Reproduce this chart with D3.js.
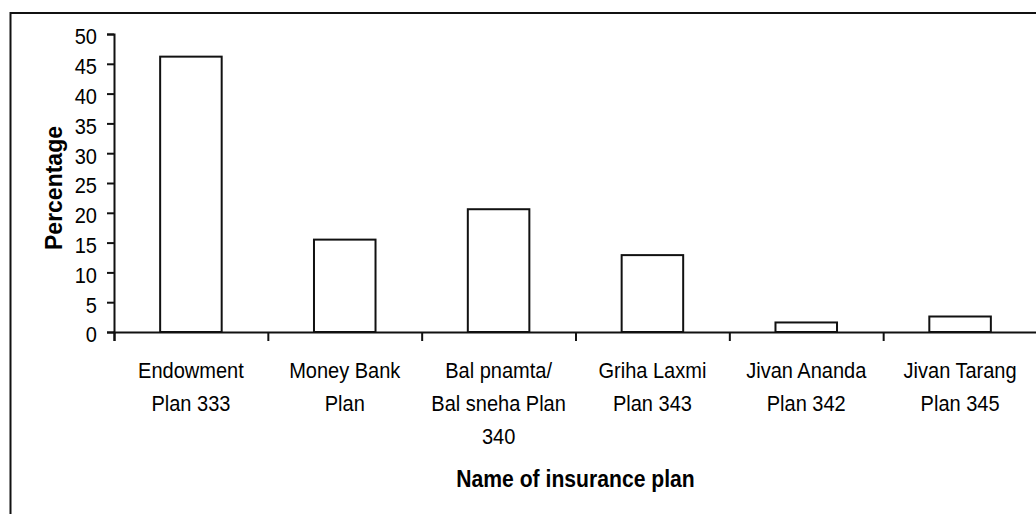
<!DOCTYPE html>
<html>
<head>
<meta charset="utf-8">
<script src="https://cdn.jsdelivr.net/npm/d3@7"></script>
<style>
  html, body { margin: 0; padding: 0; background: #fff; }
  svg { display: block; font-family: "Liberation Sans", Arial, sans-serif; }
</style>
</head>
<body>
<svg id="chart" width="1036" height="514"></svg>
<script>
// Share of policy holders by insurance plan (%)
const categories = [
  "Endowment\nPlan 333",
  "Money Bank\nPlan",
  "Bal pnamta/\nBal sneha Plan\n340",
  "Griha Laxmi\nPlan 343",
  "Jivan Ananda\nPlan 342",
  "Jivan Tarang\nPlan 345"
];
const values = [46.2, 15.5, 20.6, 12.9, 1.6, 2.6];
const yTicks = [0, 5, 10, 15, 20, 25, 30, 35, 40, 45, 50];
const xTitle = "Name of insurance plan";
const yTitle = "Percentage";

const svg = d3.select("#chart");
const ink = "#000";
const squeeze = 0.91;   // narrow the sans type slightly

// outer frame
svg.append("rect")
  .attr("x", 10.5).attr("y", 13)
  .attr("width", 1040).attr("height", 520)
  .attr("fill", "none").attr("stroke", "#111").attr("stroke-width", 2);

const plotLeft = 114, plotRight = 1037, plotTop = 34, plotBase = 332;

const x = d3.scaleBand().domain(categories).range([plotLeft, plotRight])
  .paddingInner(0.6).paddingOuter(0.3);
const xEdge = d3.scaleLinear().domain([0, categories.length]).range([plotLeft, plotRight]);
const y = d3.scaleLinear().domain([0, 50]).range([plotBase, plotTop]);

// bars
svg.append("g").selectAll("rect").data(values).join("rect")
  .attr("x", (d, i) => x(categories[i]))
  .attr("y", d => y(d))
  .attr("width", x.bandwidth())
  .attr("height", d => plotBase - y(d))
  .attr("fill", "#fff")
  .attr("stroke", "#111")
  .attr("stroke-width", 2);

// y axis
const gy = svg.append("g").attr("transform", `translate(${plotLeft},0)`)
  .call(d3.axisLeft(y).tickValues(yTicks).tickSize(7).tickPadding(10));
gy.select(".domain").attr("stroke", "#111").attr("stroke-width", 2);
gy.selectAll(".tick line").attr("stroke", "#111").attr("stroke-width", 2);
gy.selectAll(".tick text")
  .attr("x", 0).attr("dy", "0.45em")
  .attr("transform", `translate(-17,0) scale(${squeeze},1)`)
  .attr("fill", ink).attr("font-size", 22).attr("font-family", null);

// x axis line with ticks at category boundaries
const gxe = svg.append("g").attr("transform", `translate(0,${plotBase})`)
  .call(d3.axisBottom(xEdge).tickValues(d3.range(categories.length + 1))
    .tickSize(9).tickFormat(""));
gxe.select(".domain").attr("stroke", "#111").attr("stroke-width", 2);
gxe.selectAll(".tick line").attr("stroke", "#111").attr("stroke-width", 2);

// category labels
const gx = svg.append("g").attr("transform", `translate(0,${plotBase})`)
  .call(d3.axisBottom(x).tickSize(0).tickFormat(""));
gx.select(".domain").remove();
gx.selectAll(".tick text")
  .attr("y", 0).attr("dy", null)
  .attr("transform", `scale(${squeeze},1)`)
  .attr("fill", ink).attr("font-size", 22).attr("font-family", null)
  .each(function (d) {
    const t = d3.select(this);
    d.split("\n").forEach((line, k) => {
      t.append("tspan").attr("x", 0).attr("y", 46 + k * 33).text(line);
    });
  });

// axis titles
svg.append("text")
  .attr("transform", `translate(${(plotLeft + plotRight) / 2},487) scale(0.92,1)`)
  .attr("text-anchor", "middle")
  .attr("font-size", 23).attr("font-weight", "bold").attr("fill", ink)
  .text(xTitle);

svg.append("text")
  .attr("transform", `translate(62,188) rotate(-90)`)
  .attr("text-anchor", "middle")
  .attr("font-size", 23).attr("font-weight", "bold").attr("fill", ink)
  .text(yTitle);
</script>
</body>
</html>
